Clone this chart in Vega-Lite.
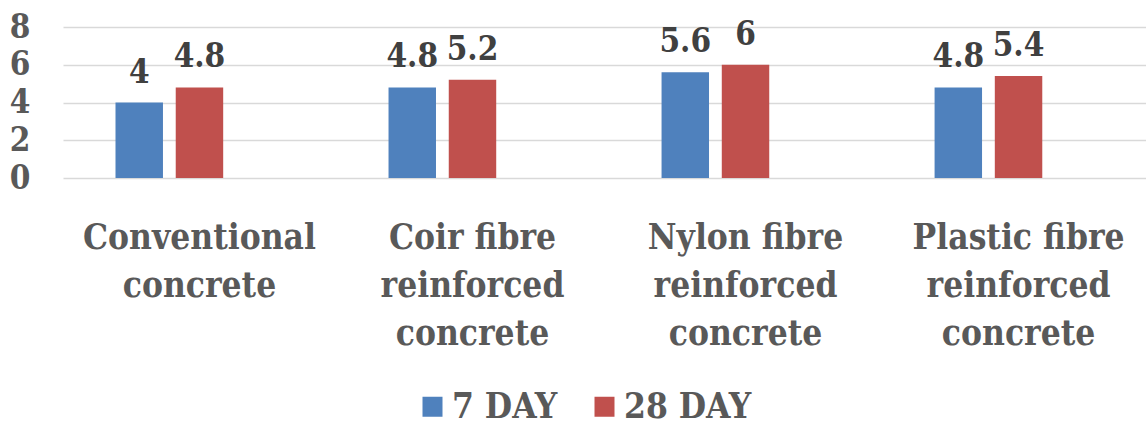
{
  "$schema": "https://vega.github.io/schema/vega-lite/v6.json",
  "width": 1083,
  "height": 151,
  "autosize": "none",
  "padding": {"left": 63, "top": 27, "right": 0, "bottom": 244},
  "background": "white",
  "config": {"view": {"stroke": null}, "font": "DejaVu Serif Condensed"},
  "data": {
    "values": [
      {"material": "Conventional concrete", "age": "7 DAY", "strength": 4},
      {"material": "Conventional concrete", "age": "28 DAY", "strength": 4.8},
      {"material": "Coir fibre reinforced concrete", "age": "7 DAY", "strength": 4.8},
      {"material": "Coir fibre reinforced concrete", "age": "28 DAY", "strength": 5.2},
      {"material": "Nylon fibre reinforced concrete", "age": "7 DAY", "strength": 5.6},
      {"material": "Nylon fibre reinforced concrete", "age": "28 DAY", "strength": 6},
      {"material": "Plastic fibre reinforced concrete", "age": "7 DAY", "strength": 4.8},
      {"material": "Plastic fibre reinforced concrete", "age": "28 DAY", "strength": 5.4}
    ]
  },
  "encoding": {
    "x": {
      "field": "material",
      "type": "nominal",
      "sort": null,
      "scale": {"range": [0, 1092], "paddingInner": 0.385, "paddingOuter": 0.1923},
      "axis": {
        "title": null,
        "labelAngle": 0,
        "domain": false,
        "ticks": false,
        "labelFont": "DejaVu Serif Condensed",
        "labelFontSize": 35,
        "labelFontWeight": "bold",
        "labelColor": "#595959",
        "labelPadding": 42,
        "labelLineHeight": 48,
        "labelLimit": 0,
        "labelOverlap": false,
        "labelExpr": "datum.value == 'Conventional concrete' ? ['Conventional', 'concrete'] : split(replace(datum.value, ' reinforced ', '|reinforced|'), '|')"
      }
    },
    "xOffset": {
      "field": "age",
      "type": "nominal",
      "scale": {"domain": ["7 DAY", "28 DAY", "blank"], "paddingInner": 0.212, "paddingOuter": 0}
    },
    "y": {
      "field": "strength",
      "type": "quantitative",
      "scale": {"domain": [0, 8]},
      "axis": {
        "title": null,
        "values": [0, 2, 4, 6, 8],
        "grid": true,
        "gridColor": "#d9d9d9",
        "gridWidth": 1.5,
        "domain": false,
        "ticks": false,
        "labelFont": "DejaVu Serif Condensed",
        "labelFontSize": 33,
        "labelFontWeight": "bold",
        "labelColor": "#595959",
        "labelPadding": 33
      }
    }
  },
  "layer": [
    {
      "mark": {"type": "bar"},
      "encoding": {
        "color": {
          "field": "age",
          "type": "nominal",
          "scale": {"domain": ["7 DAY", "28 DAY"], "range": ["#4F81BD", "#C0504D"]},
          "legend": {
            "orient": "none",
            "direction": "horizontal",
            "legendX": 352,
            "legendY": 362,
            "title": null,
            "padding": 0,
            "symbolType": "square",
            "symbolSize": 400,
            "symbolStrokeWidth": 0,
            "labelFont": "DejaVu Serif Condensed",
            "labelFontSize": 35,
            "labelFontWeight": "bold",
            "labelColor": "#595959",
            "labelOffset": 2,
            "labelLimit": 300,
            "columnPadding": 29
          }
        }
      }
    },
    {
      "mark": {
        "type": "text",
        "baseline": "alphabetic",
        "dy": -20,
        "fontSize": 33,
        "fontWeight": "bold",
        "font": "DejaVu Serif Condensed",
        "color": "#404040"
      },
      "encoding": {"text": {"field": "strength", "type": "quantitative"}}
    }
  ]
}
